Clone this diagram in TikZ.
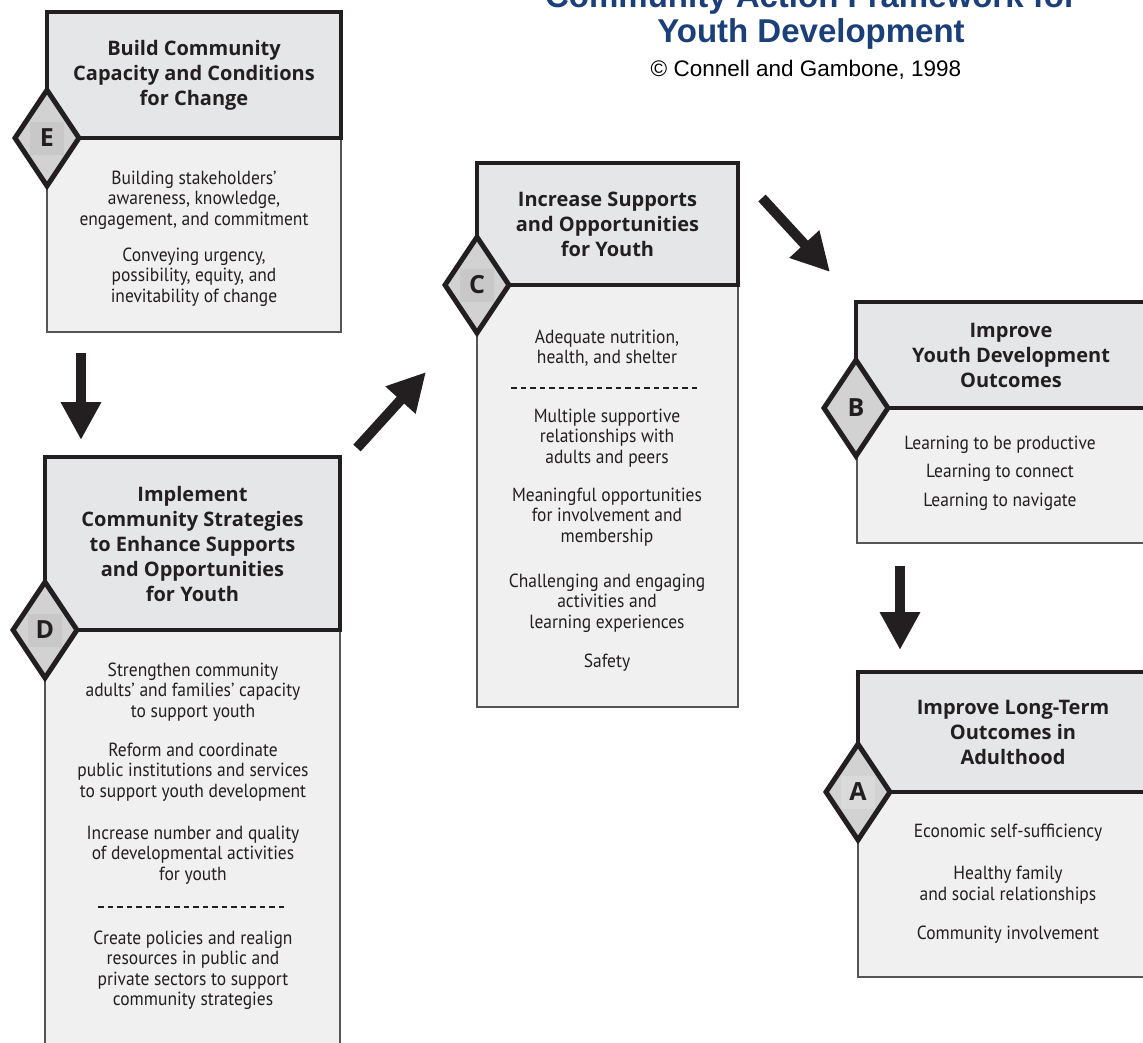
\documentclass[tikz,border=0pt]{standalone}
\usepackage{fontspec}
\setmainfont{PT Sans}[FakeStretch=0.92]
\newfontfamily\hdfont{Open Sans}
\newfontfamily\titlefont{Liberation Sans}
\usetikzlibrary{shapes.geometric,arrows.meta}
\definecolor{hdfill}{HTML}{E5E6E7}
\definecolor{bdfill}{HTML}{F0F0F0}
\definecolor{dmfill}{HTML}{D2D2D2}
\definecolor{sqdark}{HTML}{C8C8C8}
\definecolor{sqlight}{HTML}{DADADA}
\definecolor{titleblue}{HTML}{1B3F78}
\definecolor{txt}{HTML}{231F20}
\definecolor{bdline}{HTML}{555555}
\tikzset{
  bodybox/.style={draw=bdline, line width=1.3pt, fill=bdfill, inner sep=0pt, outer sep=0pt, anchor=north west},
  hdbox/.style={draw=txt, line width=4.5pt, fill=hdfill, inner sep=0pt, outer sep=0pt, anchor=north west,
     align=center, text=txt, font=\hdfont\bfseries\fontsize{20}{25}\selectfont},
  dmd/.style={diamond, draw=txt, line width=5pt, fill=dmfill, minimum width=66pt, minimum height=98pt, inner sep=0pt},
  letter/.style={font=\hdfont\bfseries\fontsize{25}{25}\selectfont, text=txt, minimum width=34pt, minimum height=33pt, inner sep=0pt},
  bodytext/.style={align=center, text=txt, font=\fontsize{19}{20.5}\selectfont, inner sep=0pt},
  dashsep/.style={draw=txt, line width=1.2pt, dash pattern=on 5.5pt off 4pt},
  fatarrow/.style={draw=txt, line width=10pt, -{Triangle[length=38pt,width=38pt]}},
  titletext/.style={text=titleblue, font=\titlefont\bfseries\fontsize{33}{36}\selectfont, inner sep=0pt, anchor=base},
  copytext/.style={text=black, font=\titlefont\fontsize{22.5}{24}\selectfont, inner sep=0pt, anchor=base}
}
\begin{document}
\begin{tikzpicture}[x=1pt,y=-1pt]
\useasboundingbox (0,0) rectangle (1143,1042);
\fill[white] (0,0) rectangle (1143,1042);

% Title
\node[titletext] (T1) at (811,7) {Community Action Framework for};
\node[titletext] (T2) at (811,42) {Youth Development};
\node[copytext] (T3) at (806,76) {© Connell and Gambone, 1998};

% Box E
\node[bodybox, minimum width=294pt, minimum height=194pt] (Eb) at (47,138) {};
\node[hdbox, minimum width=294pt, minimum height=126pt] (Eh) at (47,12) {Build Community\\Capacity and Conditions\\for Change};
\node[dmd] (dE) at (Eh.south west) {};
\node[letter, fill=sqdark] (lE) at (dE.center) {E};
\node[bodytext] (Et1) at (194,200) {Building stakeholders'\\awareness, knowledge,\\engagement, and commitment};
\node[bodytext] (Et2) at (194,277) {Conveying urgency,\\possibility, equity, and\\inevitability of change};

% Box D
\node[bodybox, minimum width=295pt, minimum height=440pt] (Db) at (45,630) {};
\node[hdbox, minimum width=295pt, minimum height=173pt] (Dh) at (45,457) {Implement\\Community Strategies\\to Enhance Supports\\and Opportunities\\for Youth};
\node[dmd] (dD) at (Dh.south west) {};
\node[letter, fill=sqdark] (lD) at (dD.center) {D};
\node[bodytext] (Dt1) at (193,692) {Strengthen community\\adults' and families' capacity\\to support youth};
\node[bodytext] (Dt2) at (193,772) {Reform and coordinate\\public institutions and services\\to support youth development};
\node[bodytext] (Dt3) at (193,855) {Increase number and quality\\of developmental activities\\for youth};
\coordinate (Dd1) at (98,907);
\coordinate (Dd2) at (287,907);
\draw[dashsep] (Dd1) -- (Dd2);
\node[bodytext] (Dt4) at (193,970) {Create policies and realign\\resources in public and\\private sectors to support\\community strategies};

% Box C
\node[bodybox, minimum width=261pt, minimum height=422pt] (Cb) at (477,285) {};
\node[hdbox, minimum width=261pt, minimum height=122pt] (Ch) at (477,163) {Increase Supports\\and Opportunities\\for Youth};
\node[dmd] (dC) at (Ch.south west) {};
\node[letter, fill=sqdark] (lC) at (dC.center) {C};
\node[bodytext] (Ct1) at (607,348) {Adequate nutrition,\\health, and shelter};
\coordinate (Cd1) at (511,388);
\coordinate (Cd2) at (698,388);
\draw[dashsep] (Cd1) -- (Cd2);
\node[bodytext] (Ct2) at (607,438) {Multiple supportive\\relationships with\\adults and peers};
\node[bodytext] (Ct3) at (607,517) {Meaningful opportunities\\for involvement and\\membership};
\node[bodytext] (Ct4) at (607,603) {Challenging and engaging\\activities and\\learning experiences};
\node[bodytext] (Ct5) at (607,663) {Safety};

% Box B
\node[bodybox, minimum width=310pt, minimum height=135pt] (Bb) at (857,408) {};
\node[hdbox, minimum width=310pt, minimum height=106pt] (Bh) at (856,302) {Improve\\Youth Development\\Outcomes};
\node[dmd] (dB) at (Bh.south west) {};
\node[letter] (lB) at (dB.center) {B};
\node[bodytext] (Bt1) at (1000,445) {Learning to be productive};
\node[bodytext] (Bt2) at (1000,473) {Learning to connect};
\node[bodytext] (Bt3) at (1000,502) {Learning to navigate};

% Box A
\node[bodybox, minimum width=310pt, minimum height=185pt] (Ab) at (858,792) {};
\node[hdbox, minimum width=310pt, minimum height=120pt] (Ah) at (858,672) {Improve Long-Term\\Outcomes in\\Adulthood};
\node[dmd] (dA) at (Ah.south west) {};
\node[letter, fill=sqlight] (lA) at (dA.center) {A};
\node[bodytext] (At1) at (1008,833) {Economic self-sufficiency};
\node[bodytext] (At2) at (1008,885) {Healthy family\\and social relationships};
\node[bodytext] (At3) at (1008,935) {Community involvement};

% Arrows
\coordinate (a1s) at (81,353);  \coordinate (a1e) at (81,440);
\coordinate (a2s) at (357,448); \coordinate (a2e) at (426,372);
\coordinate (a3s) at (762,198); \coordinate (a3e) at (830,272);
\coordinate (a4s) at (900,566); \coordinate (a4e) at (900,650);
\draw[fatarrow] (a1s) -- (a1e);
\draw[fatarrow] (a2s) -- (a2e);
\draw[fatarrow] (a3s) -- (a3e);
\draw[fatarrow] (a4s) -- (a4e);
\end{tikzpicture}
\end{document}
